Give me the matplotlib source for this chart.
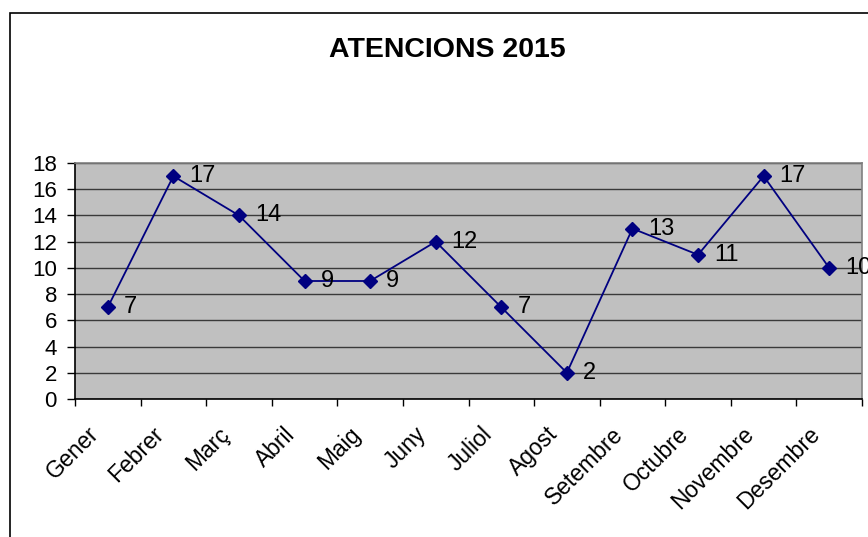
import matplotlib
matplotlib.use("Agg")
import matplotlib.pyplot as plt
from matplotlib.patches import Rectangle
from matplotlib.transforms import ScaledTranslation

months = ["Gener", "Febrer", "Març", "Abril", "Maig", "Juny", "Juliol",
          "Agost", "Setembre", "Octubre", "Novembre", "Desembre"]
attentions = [7, 17, 14, 9, 9, 12, 7, 2, 13, 11, 17, 10]
yticks = list(range(0, 19, 2))

plt.rcParams["font.family"] = ["Liberation Sans", "DejaVu Sans"]

W, H = 868, 537
fig = plt.figure(figsize=(W / 100, H / 100), dpi=100)

# chart frame (left and top edges)
fig.patches.append(Rectangle((10 / W, -0.2), 1.5, 1.2 - 13 / H,
                             transform=fig.transFigure, fill=False,
                             edgecolor="black", linewidth=1.2))

ax = fig.add_axes([75 / W, 1 - 399 / H, (862 - 75) / W, (399 - 163) / H])
ax.set_facecolor("#C0C0C0")
for s in ax.spines.values():
    s.set_color("#808080")
    s.set_linewidth(1.2)
ax.spines["left"].set_color("black")
ax.spines["bottom"].set_color("black")

x = list(range(len(months)))
ax.plot(x, attentions, color="#000080", linewidth=1.3, marker="D",
        markersize=7, zorder=3, clip_on=False)
for xi, v in zip(x, attentions):
    ax.annotate(str(v), (xi, v), xytext=(11.5, 0), textcoords="offset points",
                ha="left", va="center", fontsize=17, color="black",
                annotation_clip=False)

ax.set_xlim(-0.5, len(months) - 0.5)
ax.set_ylim(0, 18)
ax.set_yticks(yticks)
ax.set_yticklabels([str(t) for t in yticks], fontsize=16)
ax.yaxis.grid(True, color="#3a3a3a", linewidth=1)
ax.set_axisbelow(True)
ax.tick_params(axis="y", direction="out", length=6, width=1, pad=7)

ax.set_xticks([i - 0.5 for i in range(len(months) + 1)])
ax.set_xticklabels([])
ax.set_xticks(x, minor=True)
ax.set_xticklabels(months, minor=True, rotation=45, ha="right",
                   rotation_mode="anchor", fontsize=16.5)
ax.tick_params(axis="x", which="major", direction="out", length=5, width=1)
ax.tick_params(axis="x", which="minor", length=0, pad=12)
shift = ScaledTranslation(-21 / 100, -7 / 100, fig.dpi_scale_trans)
for lbl in ax.get_xticklabels(minor=True):
    lbl.set_transform(lbl.get_transform() + shift)

fig.text(447 / W, 1 - 50 / H, "ATENCIONS 2015", ha="center", va="center",
         fontsize=20.5, fontweight="bold")

fig.savefig("out.png", dpi=100)
